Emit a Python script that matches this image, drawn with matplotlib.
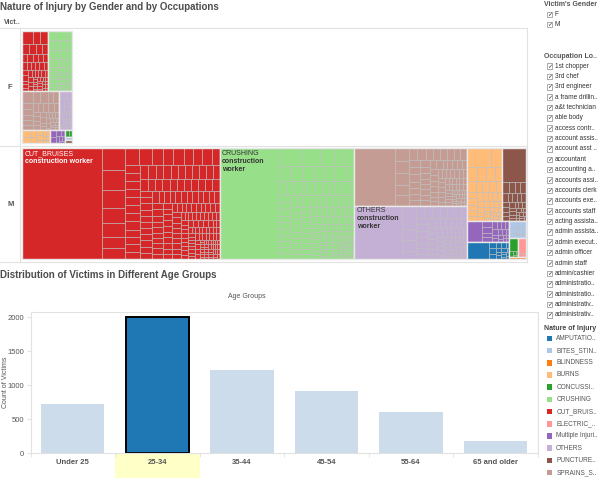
import matplotlib
matplotlib.use("Agg")
import matplotlib.pyplot as plt
from matplotlib.patches import Rectangle
from matplotlib.colors import to_rgb
from matplotlib.transforms import blended_transform_factory

plt.rcParams["font.family"] = ["Liberation Sans", "DejaVu Sans"]

# ---- data -------------------------------------------------------------
injuries = ["AMPUTATION", "BITES_STINGS", "BLINDNESS", "BURNS", "CONCUSSION", "CRUSHING",
            "CUT_BRUISES", "ELECTRIC_SHOCK", "Multiple Injuries", "OTHERS",
            "PUNCTURE_WOUNDS", "SPRAINS_STRAINS"]
legend_labels = ["AMPUTATIO..", "BITES_STIN..", "BLINDNESS", "BURNS", "CONCUSSI..", "CRUSHING",
                 "CUT_BRUIS..", "ELECTRIC_..", "Multiple Injuri..", "OTHERS", "PUNCTURE..",
                 "SPRAINS_S.."]
injury_colors = ["#1f77b4", "#aec7e8", "#ff7f0e", "#ffbb78", "#2ca02c", "#98df8a",
                 "#d62728", "#ff9896", "#9467bd", "#c5b0d5", "#8c564b", "#c49c94"]
top_occupation = "construction worker"

# victims per occupation, written as (victims, number of occupations with that count)
m_cut = [(811, 1), (47, 1), (43, 1), (39, 1), (31, 1), (30, 1), (25, 1), (23, 1), (21, 1),
         (19, 1), (17, 1), (16, 2), (14, 3), (12, 1), (11, 8), (10, 8), (9, 8), (8, 10),
         (7, 12), (6, 14), (5, 16), (4, 20), (3, 24), (2, 30), (1, 36)]
m_crushing = [(595, 1), (37, 1), (32, 1), (23, 1), (17, 3), (16, 1), (15, 2), (14, 2), (11, 1),
              (10, 1), (9, 6), (8, 8), (7, 10), (6, 12), (5, 14), (4, 16), (3, 20), (2, 26),
              (1, 30)]
m_sprains = [(217, 1), (17, 1), (15, 2), (14, 1), (13, 1), (9, 2), (8, 4), (7, 5), (6, 6),
             (5, 8), (4, 10), (3, 14), (2, 18), (1, 22)]
m_others = [(234, 1), (32, 1), (15, 1), (14, 1), (11, 1), (9, 3), (8, 3), (7, 4), (6, 5),
            (5, 6), (4, 8), (3, 10), (2, 14), (1, 18)]
m_burns = [(42, 1), (19, 1), (13, 1), (11, 2), (9, 2), (7, 3), (6, 3), (5, 4), (4, 5), (3, 6),
           (2, 8), (1, 10)]
m_puncture = [(74, 1), (6, 2), (5, 3), (4, 4), (3, 5), (2, 8), (1, 10)]
m_multiple = [(30, 1), (5, 2), (4, 3), (3, 4), (2, 6), (1, 5)]
m_amputation = [(35, 1), (4, 2), (3, 3), (2, 5), (1, 6)]
m_bites = [(6, 1), (4, 1), (3, 2), (2, 3), (1, 3)]
m_concussion = [(11, 1), (2, 1), (1, 3)]
m_electric = [(10, 1), (2, 1), (1, 1)]
m_blindness = [(2, 1), (1, 1)]

f_cut = [(13, 1), (9, 2), (6, 3), (5, 1), (4, 5), (3, 8), (2, 12), (1, 20)]
f_crushing = [(8, 2), (6, 3), (5, 5), (4, 5), (3, 8), (2, 10), (1, 14)]
f_sprains = [(12, 1), (8, 2), (6, 3), (5, 4), (4, 5), (3, 6), (2, 8), (1, 10)]
f_others = [(5, 1), (4, 2), (3, 4), (2, 6), (1, 12)]
f_burns = [(5, 1), (4, 2), (3, 3), (2, 3), (1, 4)]
f_multiple = [(4, 1), (3, 2), (2, 2), (1, 3)]
f_concussion = [(3, 1), (2, 1)]
f_bites = [(2, 1)]
f_puncture = [(2, 1)]

genders = ["F", "M"]
occupation_filter = ["1st chopper", "3rd chef", "3rd engineer", "a frame drillin..",
                     "a&t technician", "able body", "access contr..", "account assis..",
                     "account asst ..", "accountant", "accounting a..", "accounts assi..",
                     "accounts clerk", "accounts exe..", "accounts staff", "acting assista..",
                     "admin assista..", "admin execut..", "admin officer", "admin staff",
                     "admin/cashier", "administratio..", "administratio..", "administrativ..",
                     "administrativ.."]

age_groups = ["Under 25", "25-34", "35-44", "45-54", "55-64", "65 and older"]
victims = [719, 2003, 1232, 916, 611, 187]
selected_age = "25-34"

GREY = "#555555"
LINE = "#e2e2e2"


def expand(pairs):
    return sorted([v for v, n in pairs for _ in range(n)], reverse=True)


male = {"CUT_BRUISES": m_cut, "CRUSHING": m_crushing, "SPRAINS_STRAINS": m_sprains,
        "OTHERS": m_others, "BURNS": m_burns, "PUNCTURE_WOUNDS": m_puncture,
        "Multiple Injuries": m_multiple, "AMPUTATION": m_amputation, "BITES_STINGS": m_bites,
        "CONCUSSION": m_concussion, "ELECTRIC_SHOCK": m_electric, "BLINDNESS": m_blindness}
female = {"CUT_BRUISES": f_cut, "CRUSHING": f_crushing, "SPRAINS_STRAINS": f_sprains,
          "OTHERS": f_others, "BURNS": f_burns, "Multiple Injuries": f_multiple,
          "CONCUSSION": f_concussion, "BITES_STINGS": f_bites, "PUNCTURE_WOUNDS": f_puncture}
colour = dict(zip(injuries, injury_colors))


# ---- treemap layout (strips, Tableau-like) -----------------------------
def worst(row, side):
    t = sum(row) / side
    return max(max(t * t / a, a / (t * t)) for a in row)


def squarify(values, x, y, w, h, limit):
    total = float(sum(values))
    areas = [v * w * h / total for v in values]
    out = []
    i = 0
    while i < len(areas):
        vert = w >= h
        side = h if vert else w
        row = [areas[i]]
        cur = worst(row, side)
        j = i + 1
        while j < len(areas):
            nw = worst(row + [areas[j]], side)
            if nw > max(cur, limit):
                break
            row.append(areas[j])
            cur = nw
            j += 1
        t = sum(row) / side
        p = 0
        for a in row:
            l = a / t
            out.append((x, y + p, t, l) if vert else (x + p, y, l, t))
            p += l
        if vert:
            x += t
            w -= t
        else:
            y += t
            h -= t
        i = j
    return out


def draw_treemap(ax, data, x, y, w, h):
    groups = sorted(((k, expand(v)) for k, v in data.items()), key=lambda g: -sum(g[1]))
    boxes = squarify([sum(c) for _, c in groups], x, y, w, h, 3.25)
    for (name, cells), (bx, by, bw, bh) in zip(groups, boxes):
        col = colour[name]
        rects = squarify(cells, bx, by, bw, bh, 2.2)
        for cx, cy, cw, ch in rects:
            ax.add_patch(Rectangle((cx, cy), cw, ch, fc=col, ec="#bcbcbc", lw=0.4))
        ax.add_patch(Rectangle((bx, by), bw, bh, fill=False, ec="#e8e8e8", lw=1.0))
        cx, cy, cw, ch = rects[0]
        if cw > 40 and ch > 40 and len(name) * 3.4 + 4 < cw:
            r, g, b = to_rgb(col)
            tc = "white" if 0.299 * r + 0.587 * g + 0.114 * b < 0.5 else "#333333"
            lines = [top_occupation]
            if len(top_occupation) * 3.05 + 4 > cw:
                lines = top_occupation.split(" ")
            ax.text(cx + 2.5, cy + 5.2, name, fontsize=5, color=tc, va="center")
            for n, ln in enumerate(lines):
                ax.text(cx + 2.5, cy + 13 + 8 * n, ln, fontsize=5, color=tc, va="center",
                        fontweight="bold")


# ---- figure -------------------------------------------------------------
fig = plt.figure(figsize=(6, 4.78), dpi=100)
bg = fig.add_axes([0, 0, 1, 1])
bg.set_xlim(0, 600)
bg.set_ylim(478, 0)
bg.axis("off")

bg.text(0, 7, "Nature of Injury by Gender and by Occupations", fontsize=7.0,
        fontweight="bold", color="#4d4d4d", va="center")
bg.text(4, 22.5, "Vict..", fontsize=5, fontweight="bold", color=GREY, va="center")
for yy in (28.3, 145.5, 261.7):
    bg.plot([0, 527], [yy, yy], color=LINE, lw=0.8)
bg.plot([19.5, 19.5], [28.3, 261.7], color=LINE, lw=0.8)
bg.plot([527, 527], [28.3, 261.7], color=LINE, lw=0.8)
bg.text(7, 87, "F", fontsize=5.5, color=GREY, va="center", fontweight="bold")
bg.text(7, 204, "M", fontsize=5.5, color=GREY, va="center", fontweight="bold")

m_total = sum(sum(expand(v)) for v in male.values())
f_total = sum(sum(expand(v)) for v in female.values())
m_w, m_h, f_h = 503.4, 110.7, 112.0
draw_treemap(bg, male, 22.3, 148.3, m_w, m_h)
draw_treemap(bg, female, 22.3, 30.7, m_w * m_h * f_total / m_total / f_h, f_h)

bg.text(0, 275, "Distribution of Victims in Different Age Groups", fontsize=7.0,
        fontweight="bold", color="#4d4d4d", va="center")
bg.text(247, 297, "Age Groups", fontsize=5, color=GREY, va="center", ha="center")


def checkbox(y, label):
    bg.add_patch(Rectangle((546.7, y - 2.8), 5.6, 5.6, fc="white", ec="#8a8a8a", lw=0.5))
    bg.text(549.5, y + 0.2, "\u2713", fontsize=4.5, family="DejaVu Sans", color="#333333",
            ha="center", va="center")
    bg.text(554.8, y, label, fontsize=4.7, color="#333333", va="center")


bg.text(543.5, 4.5, "Victim's Gender", fontsize=5, fontweight="bold", color=GREY, va="center")
for k, g in enumerate(genders):
    checkbox(14.5 + 10 * k, g)
bg.text(543.5, 56, "Occupation Lo..", fontsize=5, fontweight="bold", color=GREY, va="center")
for k, o in enumerate(occupation_filter):
    checkbox(66 + 10.37 * k, o)

bg.text(544.5, 328, "Nature of Injury", fontsize=5, fontweight="bold", color="#444444",
        va="center")
for k, (lab, col) in enumerate(zip(legend_labels, injury_colors)):
    yy = 338.3 + 12.2 * k
    bg.add_patch(Rectangle((546.7, yy - 2.8), 5.6, 5.6, fc=col, ec="none"))
    bg.text(556.2, yy, lab, fontsize=4.7, color=GREY, va="center")

# ---- bar chart ----------------------------------------------------------
ax = fig.add_axes([30.5 / 600, (478 - 453.3) / 478, (537.8 - 30.5) / 600, (453.3 - 311.7) / 478])
pos = list(range(len(age_groups)))
sel = [a == selected_age for a in age_groups]
ax.bar(pos, victims, width=0.75, color=["#1f77b4" if s else "#cddcea" for s in sel],
       edgecolor=["black" if s else "none" for s in sel], linewidth=1.4, zorder=2)
ax.set_xlim(-0.5, len(age_groups) - 0.5)
ax.set_ylim(0, 2082)
ax.set_yticks([0, 500, 1000, 1500, 2000])
ax.set_xticks(pos)
ax.set_xticklabels(age_groups, fontsize=5.5, fontweight="bold", color=GREY)
ax.set_xticks([p - 0.5 for p in pos] + [len(pos) - 0.5], minor=True)
ax.tick_params(axis="x", which="major", length=0, pad=4)
ax.tick_params(axis="x", which="minor", length=3, color=LINE)
ax.tick_params(axis="y", labelsize=5.5, labelcolor=GREY, length=3, color=LINE, pad=1.5)
ax.set_ylabel("Count of Victims", fontsize=5, color=GREY, va="center")
ax.yaxis.set_label_coords(-0.049, 0.5)
for s in ax.spines.values():
    s.set_color(LINE)
    s.set_linewidth(0.8)
trans = blended_transform_factory(ax.transData, ax.transAxes)
k = age_groups.index(selected_age)
ax.add_patch(Rectangle((k - 0.5, -0.172), 1.0, 0.172, transform=trans, fc="#ffffc8",
                       ec="none", clip_on=False, zorder=0))

fig.savefig("out.png", dpi=100)
